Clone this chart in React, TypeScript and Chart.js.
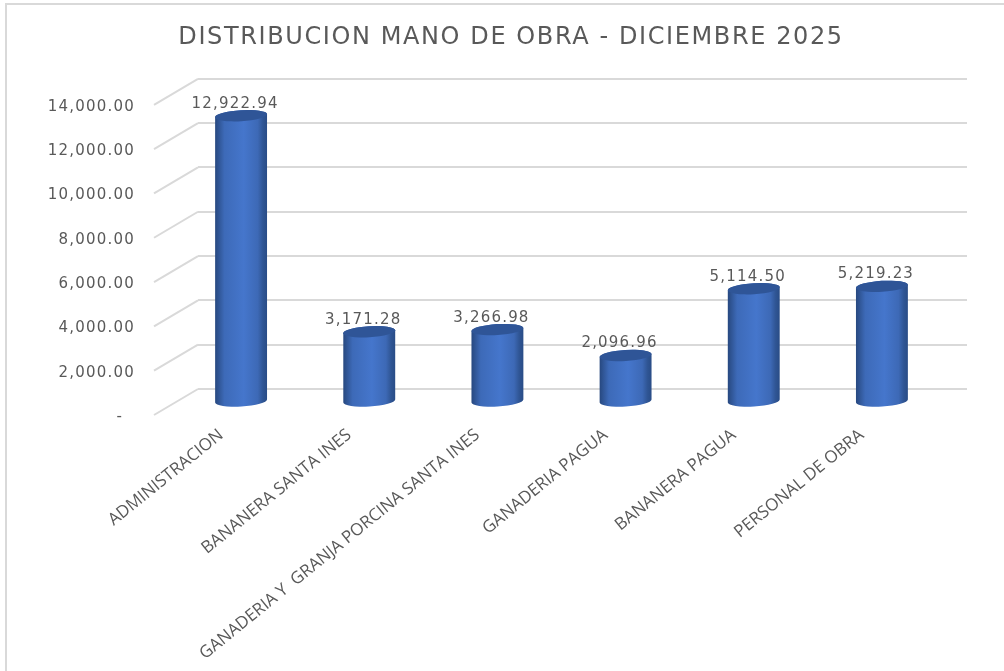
import { useEffect, useRef } from "react";
import { Chart, registerables } from "chart.js";

Chart.register(...registerables);

const categories = [
  "ADMINISTRACION",
  "BANANERA SANTA INES",
  "GANADERIA Y  GRANJA PORCINA SANTA INES",
  "GANADERIA PAGUA",
  "BANANERA PAGUA",
  "PERSONAL DE OBRA",
];
const values = [12922.94, 3171.28, 3266.98, 2096.96, 5114.5, 5219.23];
const titleText = "DISTRIBUCION MANO DE OBRA - DICIEMBRE 2025";

const FONT = "'Open Sans', sans-serif";
const WIDE = "'DejaVu Sans', sans-serif";
const TEXT = "#595959";
const GRID = "#d9d9d9";
const fmt = (v: number) =>
  v.toLocaleString("en-US", { minimumFractionDigits: 2, maximumFractionDigits: 2 });

const depth = { dx: -44, dy: 26 };
const barShift = { dx: -21, dy: 13 };

// Wraps a draw method so its text is drawn with a wider letter spacing.
function spaced(owner: any, method: string, ctx: any, spacing: string) {
  if (owner["_spaced_" + method]) return;
  owner["_spaced_" + method] = true;
  const original = owner[method];
  owner[method] = function (...args: any[]) {
    ctx.save();
    ctx.letterSpacing = spacing;
    original.apply(this, args);
    ctx.restore();
  };
}

const wallPlugin = {
  id: "wall",
  beforeDraw(chart: any) {
    if (chart.titleBlock) spaced(chart.titleBlock, "draw", chart.ctx, "1.6px");
  },
  beforeDatasetsDraw(chart: any) {
    const { ctx, chartArea, scales } = chart;
    ctx.save();
    ctx.strokeStyle = GRID;
    ctx.lineWidth = 2;
    for (const t of scales.y.ticks) {
      const y = scales.y.getPixelForValue(t.value);
      ctx.beginPath();
      ctx.moveTo(chartArea.left, y);
      ctx.lineTo(chartArea.left + depth.dx, y + depth.dy);
      ctx.stroke();
    }
    ctx.restore();
  },
};

const cylinderPlugin = {
  id: "cylinder",
  beforeDatasetDraw() {
    return false;
  },
  afterDatasetsDraw(chart: any) {
    const { ctx } = chart;
    const meta = chart.getDatasetMeta(0);
    const rot = (-3.5 * Math.PI) / 180;
    const ry = 5.5;
    meta.data.forEach((bar: any, i: number) => {
      const p = bar.getProps(["x", "y", "base", "width"], true);
      const cx = p.x + barShift.dx;
      const top = p.y + barShift.dy;
      const base = p.base + barShift.dy;
      const rx = p.width / 2;
      const g = ctx.createLinearGradient(cx - rx, 0, cx + rx, 0);
      g.addColorStop(0, "#27487f");
      g.addColorStop(0.18, "#3d6ab8");
      g.addColorStop(0.55, "#4576cc");
      g.addColorStop(0.82, "#3d69b6");
      g.addColorStop(0.92, "#2f5594");
      g.addColorStop(1, "#294c86");
      ctx.save();
      ctx.beginPath();
      ctx.ellipse(cx, top, rx, ry, rot, Math.PI, 0, false);
      ctx.ellipse(cx, base, rx, ry, rot, 0, Math.PI, false);
      ctx.closePath();
      ctx.fillStyle = g;
      ctx.fill();
      ctx.beginPath();
      ctx.ellipse(cx, top, rx, ry, rot, 0, Math.PI * 2);
      ctx.fillStyle = "#2f5597";
      ctx.fill();
      ctx.fillStyle = TEXT;
      ctx.font = `15px ${WIDE}`;
      (ctx as any).letterSpacing = "1.2px";
      ctx.textAlign = "center";
      ctx.textBaseline = "middle";
      ctx.fillText(fmt(values[i]), cx - 6, top - 12);
      ctx.restore();
    });
  },
};

export default function App() {
  const ref = useRef<HTMLCanvasElement>(null);
  useEffect(() => {
    const chart = new Chart(ref.current!, {
      type: "bar",
      data: {
        labels: categories,
        datasets: [{ data: values, backgroundColor: "#4472C4", barThickness: 52 }],
      },
      options: {
        animation: false,
        responsive: false,
        layout: { padding: { left: 55, right: 37, top: 0, bottom: 0 } },
        plugins: {
          legend: { display: false },
          tooltip: { enabled: false },
          title: {
            display: true,
            text: titleText,
            color: TEXT,
            font: { family: WIDE, size: 24, weight: "normal" },
            padding: { top: 23, bottom: 27 },
          },
        },
        scales: {
          x: {
            grid: { display: false },
            border: { display: false },
            afterFit(s: any) {
              s.height = 282;
            },
            ticks: {
              color: TEXT,
              font: { family: FONT, size: 17 },
              autoSkip: false,
              minRotation: 39,
              maxRotation: 39,
              padding: 28,
              labelOffset: -41,
            },
          },
          y: {
            min: 0,
            max: 14000,
            border: { display: false },
            grid: { color: GRID, lineWidth: 2, drawTicks: false },
            afterFit(s: any) {
              s.width = 143;
              s._computeLabelArea = () => undefined;
              spaced(s, "drawLabels", s.ctx, "1.2px");
            },
            ticks: {
              stepSize: 2000,
              color: TEXT,
              font: { family: WIDE, size: 15 },
              padding: 63,
              labelOffset: 28,
              callback: (v: any) => (v === 0 ? "-  " : fmt(Number(v))),
            },
          },
        },
      } as any,
      plugins: [wallPlugin, cylinderPlugin],
    });
    return () => chart.destroy();
  }, []);
  return (
    <div style={{ position: "absolute", left: 0, top: 0, width: 1004, height: 671, background: "#fff", overflow: "hidden" }}>
      <canvas ref={ref} width={1004} height={671} style={{ display: "block" }} />
      <div
        style={{
          position: "absolute",
          left: 5,
          top: 3,
          right: 0,
          bottom: 0,
          borderTop: `2px solid ${GRID}`,
          borderLeft: `2px solid ${GRID}`,
          pointerEvents: "none",
        }}
      />
    </div>
  );
}
